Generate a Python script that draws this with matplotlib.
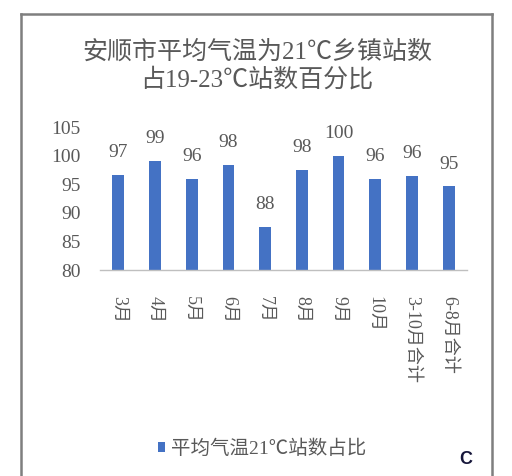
import matplotlib
matplotlib.use("Agg")
import matplotlib.pyplot as plt
from matplotlib.lines import Line2D

categories = ["3月", "4月", "5月", "6月", "7月", "8月", "9月", "10月", "3-10月合计", "6-8月合计"]
values = [96.6, 99.1, 95.9, 98.3, 87.6, 97.5, 99.9, 95.9, 96.4, 94.6]
yticks = [80, 85, 90, 95, 100, 105]
title = "安顺市平均气温为21℃乡镇站数\n占19-23℃站数百分比"
series_name = "平均气温21℃站数占比"

FAM = ["Liberation Serif", "Noto Sans CJK SC", "DejaVu Sans"]
plt.rcParams["font.family"] = FAM
GRAY = "#595959"
BLUE = "#4472C4"

W, H = 512, 476
fig = plt.figure(figsize=(W / 100, H / 100), dpi=100)
ax = fig.add_axes([100 / W, 1 - 270 / H, (467 - 100) / W, (270 - 127) / H])

x = list(range(len(categories)))
bars = ax.bar(x, values, width=0.32, color=BLUE, label=series_name, zorder=2)
ax.set_xlim(-0.5, len(categories) - 0.5)
ax.set_ylim(80, 105)
ax.set_yticks(yticks)
ax.set_yticklabels([str(v) for v in yticks], fontsize=14, color=GRAY)
ax.set_xticks(x)
ax.set_xticklabels(categories, rotation=-90, fontsize=13, color=GRAY, va="top")
ax.tick_params(axis="y", length=0, pad=14)
ax.tick_params(axis="x", length=0, pad=19)
for s in ["top", "right", "left"]:
    ax.spines[s].set_visible(False)
ax.spines["bottom"].set_color("#bfbfbf")
ax.spines["bottom"].set_linewidth(1.0)

for rect, v in zip(bars, values):
    ax.annotate("%.0f" % v, (rect.get_x() + rect.get_width() / 2, v),
                xytext=(0, 10), textcoords="offset points", ha="center", va="bottom",
                fontsize=14, color=GRAY)

fig.text(257 / W, 1 - 66 / H, title, ha="center", va="center", fontsize=18,
         color=GRAY, linespacing=1.2)

leg = fig.legend(loc="center", bbox_to_anchor=(262 / W, 1 - 449 / H), frameon=False,
                 handlelength=0.4, handleheight=0.4, handletextpad=0.3,
                 prop={"size": 14})
for t in leg.get_texts():
    t.set_color(GRAY)

fig.text(466 / W, 1 - 460 / H, "C", ha="center", va="center", fontsize=13,
         fontweight="bold", color="#16163a", family=["Liberation Sans", "DejaVu Sans"])

# outer border
bx0, bx1, by = 21 / W, 492 / W, 1 - 14 / H
for xs, ys in [([bx0, bx0], [-0.05, by]), ([bx1, bx1], [-0.05, by]), ([bx0, bx1], [by, by])]:
    fig.add_artist(Line2D(xs, ys, transform=fig.transFigure, color="#7f7f7f", lw=1.8))

fig.savefig("out.png", dpi=100)
